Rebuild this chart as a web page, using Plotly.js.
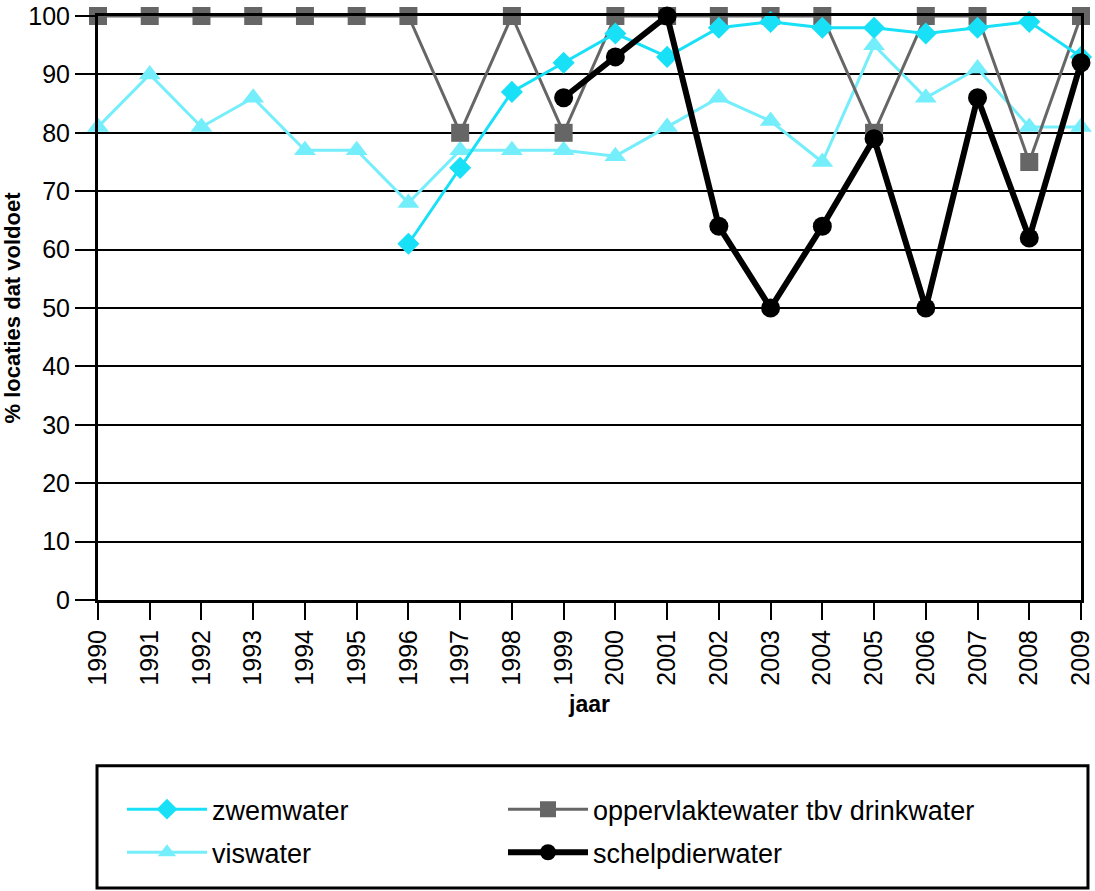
<!DOCTYPE html>
<html><head><meta charset="utf-8">
<script src="https://cdn.plot.ly/plotly-3.0.1.min.js"></script>
<style>html,body{margin:0;padding:0;background:#fff;}#chart{width:1095px;height:891px;}</style>
</head><body><div id="chart"></div>
<script>
const years = [1990,1991,1992,1993,1994,1995,1996,1997,1998,1999,2000,2001,2002,2003,2004,2005,2006,2007,2008,2009];
const zwemwaterYears = [1996,1997,1998,1999,2000,2001,2002,2003,2004,2005,2006,2007,2008,2009];
const zwemwater = [61,74,87,92,97,93,98,99,98,98,97,98,99,93];
const viswater = [81,90,81,86,77,77,68,77,77,77,76,81,86,82,75,95,86,91,81,81];
const oppervlaktewater = [100,100,100,100,100,100,100,80,100,80,100,100,100,100,100,80,100,100,75,100];
const schelpdierYears = [1999,2000,2001,2002,2003,2004,2005,2006,2007,2008,2009];
const schelpdierwater = [86,93,100,64,50,64,79,50,86,62,92];
const yTicks = [0,10,20,30,40,50,60,70,80,90,100];

const traces = [
  {x: years, y: viswater, name: 'viswater', mode: 'lines+markers', legend: 'legend', legendgroup: 'b', legendrank: 2,
   line: {color: '#74EEFB', width: 3}, marker: {symbol: 'triangle-up', size: 19, color: '#74EEFB'}, cliponaxis: false},
  {x: years, y: oppervlaktewater, name: 'oppervlaktewater tbv drinkwater', mode: 'lines+markers', legend: 'legend2', legendgroup: 'c', legendrank: 1,
   line: {color: '#666666', width: 3}, marker: {symbol: 'square', size: 18, color: '#666666'}, cliponaxis: false},
  {x: zwemwaterYears, y: zwemwater, name: 'zwemwater', mode: 'lines+markers', legend: 'legend', legendgroup: 'a', legendrank: 1,
   line: {color: '#18E0F7', width: 3}, marker: {symbol: 'diamond', size: 17, color: '#18E0F7'}, cliponaxis: false},
  {x: schelpdierYears, y: schelpdierwater, name: 'schelpdierwater', mode: 'lines+markers', legend: 'legend2', legendgroup: 'd', legendrank: 2,
   line: {color: '#000000', width: 6}, marker: {symbol: 'circle', size: 19, color: '#000000'}, cliponaxis: false}
];

const legendBase = {
  orientation: 'v', yanchor: 'top', xanchor: 'left', y: -0.317,
  traceorder: 'grouped', tracegroupgap: 5, itemwidth: 80,
  bgcolor: 'rgba(0,0,0,0)', borderwidth: 0,
  font: {size: 27}
};

const layout = {
  width: 1095, height: 891,
  margin: {l: 98, r: 14, t: 16, b: 291},
  paper_bgcolor: '#fff', plot_bgcolor: '#fff',
  font: {family: 'Liberation Sans, Arial, sans-serif', size: 25, color: '#000'},
  showlegend: true,
  xaxis: {
    range: [1990, 2009], tickmode: 'array', tickvals: years, ticktext: years.map(String),
    tickangle: -90, ticks: 'outside', ticklen: 17, tickwidth: 2, tickcolor: '#000',
    showgrid: false, zeroline: false, showline: true, linewidth: 3, linecolor: '#000', mirror: true,
    tickfont: {size: 25}, ticklabeloverflow: 'allow',
    title: {text: '<b>jaar</b>', font: {size: 23}, standoff: 12}
  },
  yaxis: {
    range: [0, 100], tickmode: 'array', tickvals: yTicks,
    ticks: 'outside', ticklen: 20, tickwidth: 2, tickcolor: '#000',
    showgrid: true, gridcolor: '#000', gridwidth: 2, zeroline: false,
    showline: true, linewidth: 3, linecolor: '#000', mirror: true,
    tickfont: {size: 25}, ticklabeloverflow: 'allow',
    title: {text: '<b>% locaties dat voldoet</b>', font: {size: 22}, standoff: 6}
  },
  legend: Object.assign({}, legendBase, {x: 0.0244}),
  legend2: Object.assign({}, legendBase, {x: 0.412}),
  shapes: [
    {type: 'rect', xref: 'paper', yref: 'paper', x0: -0.001, x1: 1.0071, y0: -0.493, y1: -0.284,
     line: {color: '#000', width: 3}, fillcolor: 'rgba(0,0,0,0)'}
  ]
};

Plotly.newPlot('chart', traces, layout, {displayModeBar: false, staticPlot: true});
</script></body></html>
